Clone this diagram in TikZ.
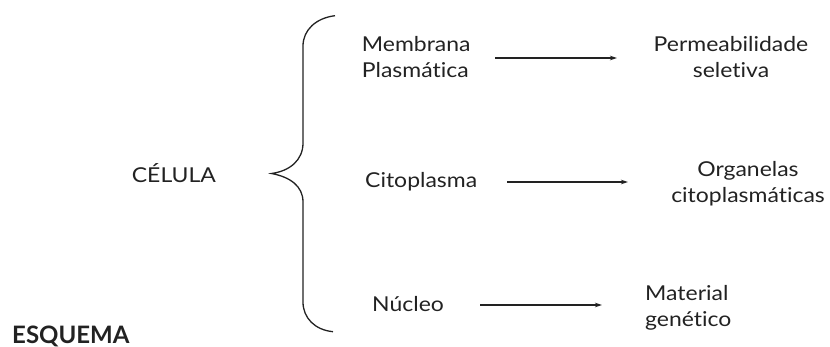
\documentclass[tikz,border=0pt]{standalone}
\usepackage{fontspec}
\setmainfont{Lato}[FakeStretch=1.12,Ligatures={NoCommon,NoRare}]
\newfontfamily\esqfont{Lato}
\usetikzlibrary{arrows.meta}
\definecolor{ink}{HTML}{222222}
\tikzset{
  lbl/.style={inner sep=0pt, text=ink, font=\fontsize{20.5}{26.5}\selectfont, align=left},
  lblc/.style={lbl, align=center},
  arr/.style={draw=ink, line width=1.2pt, -{Stealth[length=7pt,width=4.5pt]}},
  brace/.style={draw=ink, line width=1.3pt}
}
\begin{document}
\begin{tikzpicture}[x=1pt,y=-1pt]
\useasboundingbox (0,0) rectangle (830,347);
\node[lbl, anchor=base west] (cel) at (131.7,182.3) {CÉLULA};
\node[lbl, font=\esqfont\fontsize{24}{27}\selectfont\bfseries, anchor=base west] (esq) at (12,343.3) {ESQUEMA};
\node[lbl, anchor=base west] (mem) at (361.7,78) {Membrana\\Plasmática};
\node[lbl, anchor=base west] (cit) at (365,187.3) {Citoplasma};
\node[lbl, anchor=base west] (nuc) at (372,311.7) {Núcleo};
\node[lblc, anchor=base] (per) at (731,78) {Permeabilidade\\seletiva};
\node[lblc, anchor=base] (org) at (748,203) {Organelas\\citoplasmáticas};
\node[lbl, anchor=base west] (mat) at (645,326.7) {Material\\genético};
\coordinate (a1s) at (495,58); \coordinate (a1e) at (617,58);
\coordinate (a2s) at (507,182); \coordinate (a2e) at (628,182);
\coordinate (a3s) at (480,305); \coordinate (a3e) at (602,305);
\draw[arr] (a1s) -- (a1e);
\draw[arr] (a2s) -- (a2e);
\draw[arr] (a3s) -- (a3e);
\coordinate (bt) at (335,15.7);
\coordinate (tip) at (271.5,173.5);
\coordinate (bb) at (333,331.7);
\draw[brace] (bt) .. controls (316,18) and (303,30) .. (303,46)
  -- (303,143) .. controls (303,160) and (290,171) .. (tip)
  .. controls (290,177) and (303,186) .. (303,202)
  -- (303,302) .. controls (303,318) and (315,330) .. (bb);
\end{tikzpicture}
\end{document}
